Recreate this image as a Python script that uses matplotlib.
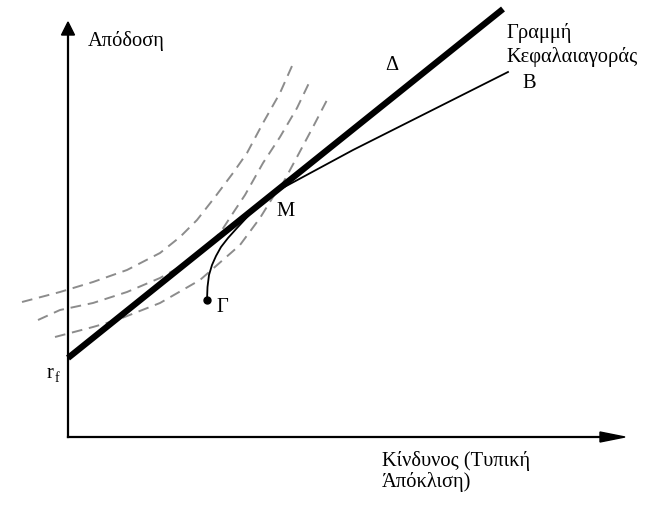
import matplotlib
matplotlib.use("Agg")
import matplotlib.pyplot as plt
import numpy as np

plt.rcParams['font.family'] = ['Liberation Serif', 'DejaVu Serif']

# Diagram coordinates: risk (x) and return (y), origin at axes corner
x_axis_end = 557
y_axis_end = 415

# Capital market line (Δ)
cml_x = [0, 435]
cml_y = [79, 428]

# Efficient frontier Γ -> M -> B
front_x = [139, 139.5, 141, 144, 148, 153, 160, 169, 182, 195, 209, 285, 440]
front_y = [137, 150, 162, 172, 181, 190, 199, 209, 223, 235, 246, 287, 365]

# Indifference curves
ind_a_x = [-46, -8, 25, 59, 92, 112, 129, 147, 165, 179, 195, 212, 224]
ind_a_y = [135, 145, 155, 167, 184, 200, 217, 240, 264, 284, 314, 344, 371]
ind_b_x = [-30, -8, 25, 59, 92, 119, 135, 152, 167, 177, 195, 212, 229, 241]
ind_b_y = [117, 127, 134, 145, 159, 174, 187, 204, 227, 242, 274, 300, 329, 354]
ind_c_x = [-13, 25, 49, 92, 132, 172, 192, 205, 215, 229, 245, 259]
ind_c_y = [100, 110, 117, 134, 157, 192, 219, 240, 254, 280, 310, 337]

fig = plt.figure(figsize=(6.52, 5.08), dpi=100)
ax = fig.add_axes([0, 0, 1, 1])
ax.set_xlim(-68, 584)
ax.set_ylim(-71, 437)
ax.axis('off')

dash = dict(color='#8c8c8c', lw=1.4, linestyle=(0, (5.5, 3.5)))
for xs, ys in [(ind_a_x, ind_a_y), (ind_b_x, ind_b_y), (ind_c_x, ind_c_y)]:
    ax.plot(xs, ys, **dash, zorder=2)

ax.plot(cml_x, cml_y, color='black', lw=4.5, solid_capstyle='butt', zorder=3)
ax.plot(front_x, front_y, color='black', lw=1.3, zorder=4)
ax.plot([front_x[0]], [front_y[0]], 'o', color='black', ms=5, zorder=5)

# Axes with arrows
ax.plot([0, x_axis_end - 24], [0, 0], color='black', lw=1.6, zorder=3)
ax.plot([0, 0], [0, y_axis_end - 12], color='black', lw=1.6, zorder=3)
ax.fill([x_axis_end - 25, x_axis_end, x_axis_end - 25], [5, 0, -5], color='black', zorder=3)
ax.fill([-6.5, 0, 6.5], [y_axis_end - 13, y_axis_end, y_axis_end - 13], color='black', zorder=3)

fs = 14.8
ax.text(20, 396, 'Απόδοση', fontsize=fs, ha='left', va='center')
ax.text(324, 371, 'Δ', fontsize=fs, ha='center', va='center')
ax.text(438, 399, 'Γραμμή', fontsize=fs, ha='left', va='baseline')
ax.text(438, 375, 'Κεφαλαιαγοράς', fontsize=fs, ha='left', va='baseline')
ax.text(461, 353, 'Β', fontsize=fs, ha='center', va='center')
ax.text(218, 226, 'Μ', fontsize=fs, ha='center', va='center')
ax.text(154, 129, 'Γ', fontsize=fs, ha='center', va='center')
ax.text(-21, 59, 'r', fontsize=fs, ha='left', va='baseline')
ax.text(-13.5, 55, 'f', fontsize=10, ha='left', va='baseline')
ax.text(314, -29, 'Κίνδυνος (Τυπική', fontsize=fs, ha='left', va='baseline')
ax.text(314, -50, 'Άπόκλιση)', fontsize=fs, ha='left', va='baseline')

fig.savefig('out.png', dpi=100)
